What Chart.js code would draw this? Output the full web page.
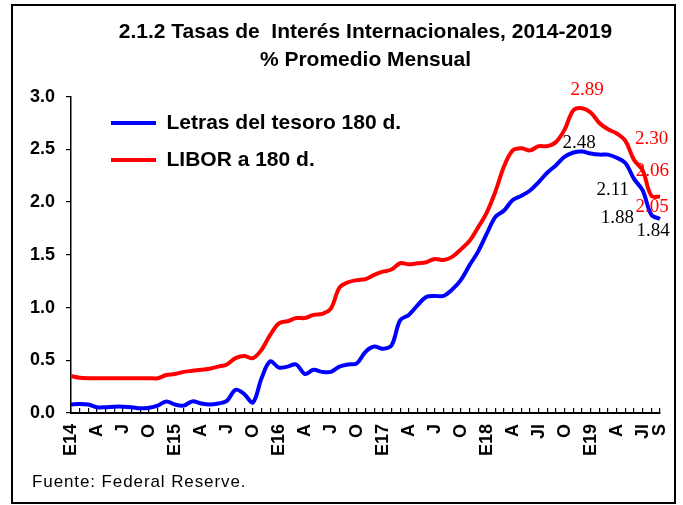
<!DOCTYPE html>
<html>
<head>
<meta charset="utf-8">
<script src="https://cdn.jsdelivr.net/npm/chart.js@4.4.1/dist/chart.umd.min.js"></script>
<style>
  html, body { margin: 0; padding: 0; background: #fff; }
  #wrap { position: absolute; left: 0; top: 0; width: 683px; height: 505px; }
  #frame { position: absolute; left: 11px; top: 4px; width: 661px; height: 496px; border: 2px solid #000; pointer-events: none; }
  #fuente { position: absolute; left: 32px; top: 472px; font: 17px 'Liberation Sans', Arial, sans-serif; letter-spacing: 0.9px; color: #000; }
</style>
</head>
<body>
<div id="wrap"><canvas id="chart"></canvas></div>
<div id="frame"></div>
<div id="fuente">Fuente: Federal Reserve.</div>
<script>
// meses ene-2014 a sep-2019, solo algunos con etiqueta
const months = [
  'E14', '', '', 'A', '', '', 'J', '', '', 'O', '', '',
  'E15', '', '', 'A', '', '', 'J', '', '', 'O', '', '',
  'E16', '', '', 'A', '', '', 'J', '', '', 'O', '', '',
  'E17', '', '', 'A', '', '', 'J', '', '', 'O', '', '',
  'E18', '', '', 'A', '', '', 'Jl', '', '', 'O', '', '',
  'E19', '', '', 'A', '', '', 'Jl', '', 'S'
];

const letras = [
  0.08, 0.085, 0.08, 0.055, 0.055, 0.06, 0.06, 0.055, 0.045, 0.05, 0.07, 0.11,
  0.08, 0.07, 0.11, 0.09, 0.08, 0.09, 0.115, 0.22, 0.18, 0.10, 0.33, 0.49,
  0.43, 0.44, 0.46, 0.37, 0.41, 0.39, 0.39, 0.44, 0.46, 0.47, 0.58, 0.63,
  0.61, 0.64, 0.88, 0.93, 1.02, 1.10, 1.11, 1.11, 1.17, 1.26, 1.40, 1.53,
  1.70, 1.86, 1.92, 2.02, 2.06, 2.11, 2.19, 2.28, 2.35, 2.43, 2.47, 2.48,
  2.46, 2.45, 2.45, 2.42, 2.37, 2.22, 2.11, 1.88, 1.84
];

const libor = [
  0.35, 0.335, 0.33, 0.33, 0.33, 0.33, 0.33, 0.33, 0.33, 0.33, 0.33, 0.36,
  0.37, 0.39, 0.40, 0.41, 0.42, 0.44, 0.46, 0.52, 0.54, 0.52, 0.60, 0.74,
  0.85, 0.87, 0.90, 0.90, 0.93, 0.94, 0.99, 1.19, 1.24, 1.26, 1.27, 1.31,
  1.34, 1.36, 1.42, 1.41, 1.42, 1.43, 1.46, 1.45, 1.48, 1.55, 1.63, 1.76,
  1.90, 2.10, 2.34, 2.49, 2.51, 2.49, 2.53, 2.53, 2.57, 2.69, 2.87, 2.89,
  2.85, 2.75, 2.69, 2.65, 2.58, 2.40, 2.30, 2.06, 2.05
];

const yTicks = ['0.0', '0.5', '1.0', '1.5', '2.0', '2.5', '3.0'];

const sans = "'Liberation Sans', Arial, sans-serif";

// etiquetas de valor puestas a mano, como en el original
const valueLabels = {
  id: 'valueLabels',
  afterDatasetsDraw(chart, args, opts) {
    const ctx = chart.ctx;
    ctx.save();
    ctx.font = "19px 'Liberation Serif', 'Times New Roman', serif";
    ctx.textAlign = 'center';
    ctx.textBaseline = 'middle';
    opts.items.forEach(it => {
      const pt = chart.getDatasetMeta(it.ds).data[it.i];
      const v = chart.data.datasets[it.ds].data[it.i];
      ctx.fillStyle = it.color;
      ctx.fillText(v.toFixed(2), pt.x + it.dx, pt.y + it.dy);
    });
    ctx.restore();
  }
};

// leyenda dentro del área del gráfico, un poco a la derecha
const legendInside = {
  id: 'legendInside',
  afterLayout(chart) {
    const lg = chart.legend;
    const ca = chart.chartArea;
    if (!lg) return;
    const w = lg.width, h = lg.height;
    lg.left = ca.left + 24;
    lg.top = ca.top;
    lg.right = lg.left + w;
    lg.bottom = lg.top + h;
  }
};

Chart.defaults.color = '#000';

new Chart(document.getElementById('chart'), {
  type: 'line',
  data: {
    labels: months,
    datasets: [
      { label: 'Letras del tesoro 180 d.', data: letras, borderColor: '#0000ff', backgroundColor: '#0000ff', borderWidth: 4, pointRadius: 0, tension: 0.35 },
      { label: 'LIBOR a 180 d.', data: libor, borderColor: '#ff0000', backgroundColor: '#ff0000', borderWidth: 4, pointRadius: 0, tension: 0.35 }
    ]
  },
  options: {
    responsive: true,
    maintainAspectRatio: false,
    animation: false,
    layout: { padding: { left: 0, right: 23, top: 0, bottom: 22 } },
    scales: {
      x: {
        grid: { drawOnChartArea: false, drawTicks: true, tickLength: -5, color: '#000', lineWidth: 1.2 },
        border: { color: '#000', width: 2 },
        ticks: { autoSkip: false, minRotation: 90, maxRotation: 90, padding: 16, color: '#000', font: { family: sans, size: 18, weight: 'bold' } },
        afterFit(s) {
          s.height = 70;
          s.paddingLeft = 0;
          s.paddingRight = 0;
        }
      },
      y: {
        min: 0,
        max: 3,
        grid: { drawOnChartArea: false, drawTicks: true, tickLength: 5, color: '#000', lineWidth: 1.2 },
        border: { color: '#000', width: 1.5 },
        ticks: { stepSize: 0.5, padding: 11, color: '#000', font: { family: sans, size: 18, weight: 'bold' },
          callback: (v, i) => yTicks[i] },
        afterFit(s) { s.width = 71; }
      }
    },
    plugins: {
      title: {
        display: true,
        fullSize: false,
        text: ['2.1.2 Tasas de  Interés Internacionales, 2014-2019', '% Promedio Mensual'],
        color: '#000',
        font: { family: sans, size: 21, weight: 'bold', lineHeight: 1.3 },
        padding: { top: 19, bottom: 23 }
      },
      legend: {
        display: true,
        position: 'chartArea',
        align: 'start',
        labels: {
          usePointStyle: true,
          pointStyle: 'line',
          pointStyleWidth: 45,
          padding: 16,
          color: '#000',
          font: { family: sans, size: 21, weight: 'bold' }
        }
      },
      tooltip: { enabled: false },
      valueLabels: {
        items: [
          { ds: 1, i: 59, dx: 5, dy: -18, color: '#ff0000' },
          { ds: 0, i: 59, dx: -3, dy: -8, color: '#000' },
          { ds: 1, i: 66, dx: 9, dy: -31, color: '#ff0000' },
          { ds: 1, i: 67, dx: 1, dy: -25, color: '#ff0000' },
          { ds: 1, i: 68, dx: -8, dy: 10, color: '#ff0000' },
          { ds: 0, i: 66, dx: -30, dy: 0, color: '#000' },
          { ds: 0, i: 67, dx: -34, dy: 3, color: '#000' },
          { ds: 0, i: 68, dx: -7, dy: 12, color: '#000' }
        ]
      }
    }
  },
  plugins: [valueLabels, legendInside]
});
</script>
</body>
</html>
